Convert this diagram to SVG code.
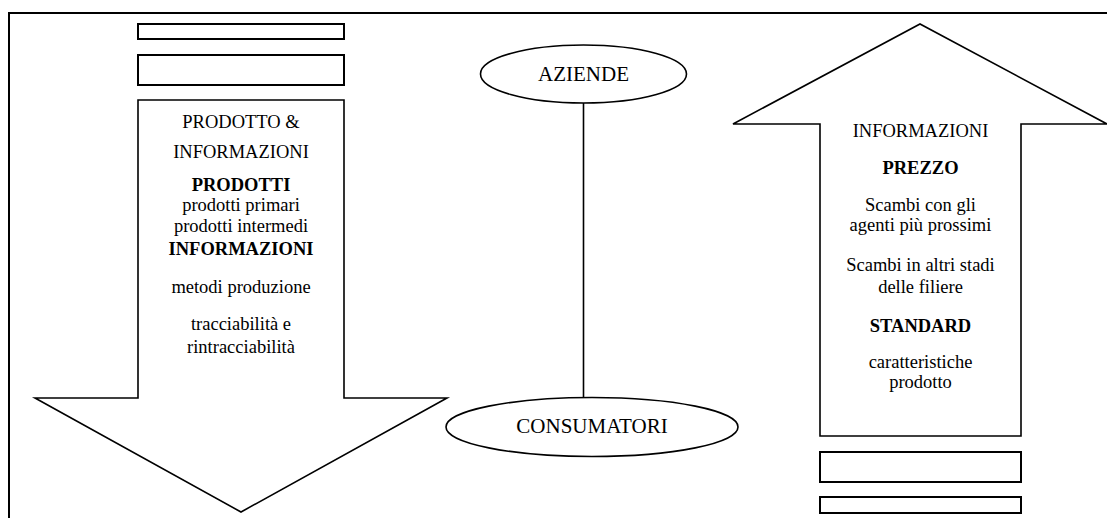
<svg xmlns="http://www.w3.org/2000/svg" width="1107" height="518" viewBox="0 0 1107 518" font-family="'Liberation Serif', Tinos, 'DejaVu Serif', 'Noto Serif', serif">
<style>
.frame{fill:none;stroke:#000;stroke-width:2}
.box{fill:#fff;stroke:#000;stroke-width:2}
.arrow{fill:#fff;stroke:#000;stroke-width:1.6;stroke-linejoin:miter}
.ell{fill:#fff;stroke:#000;stroke-width:1.6}
.conn{stroke:#000;stroke-width:1.6;fill:none}
text{font-family:'Liberation Serif', Tinos, 'DejaVu Serif', 'Noto Serif', serif;fill:#000;text-anchor:middle}
.t{font-size:18.5px}
.b{font-size:18.5px;font-weight:bold}
.e{font-size:21px}
</style>
<rect class="frame" x="9" y="13" width="1110" height="520"/>
<g id="connectors">
<line class="conn" x1="583.5" y1="103" x2="583.5" y2="400"/>
</g>
<g id="left-arrow">
<rect class="box" x="138" y="24" width="206" height="15"/>
<rect class="box" x="138" y="55" width="206" height="30"/>
<path class="arrow" d="M138,100 H344 V398 H447 L241,512 L35,398 H138 Z"/>
<text class="t" x="241" y="128">PRODOTTO &amp;</text>
<text class="t" x="241" y="158">INFORMAZIONI</text>
<text class="b" x="241" y="191">PRODOTTI</text>
<text class="t" x="241" y="211">prodotti primari</text>
<text class="t" x="241" y="232">prodotti intermedi</text>
<text class="b" x="241" y="255">INFORMAZIONI</text>
<text class="t" x="241" y="293">metodi produzione</text>
<text class="t" x="241" y="330">tracciabilità e</text>
<text class="t" x="241" y="353">rintracciabilità</text>
</g>
<g id="aziende">
<ellipse class="ell" cx="583.5" cy="74" rx="103" ry="29"/>
<text class="e" x="583.5" y="81">AZIENDE</text>
</g>
<g id="consumatori">
<ellipse class="ell" cx="592" cy="427" rx="146" ry="29.5"/>
<text class="e" x="592" y="433">CONSUMATORI</text>
</g>
<g id="right-arrow">
<path class="arrow" d="M820,436 V124 H733 L920,24 L1107,124 H1021 V436 Z"/>
<rect class="box" x="820" y="452" width="201" height="30"/>
<rect class="box" x="820" y="497" width="201" height="16"/>
<text class="t" x="920.5" y="137">INFORMAZIONI</text>
<text class="b" x="920.5" y="174">PREZZO</text>
<text class="t" x="920.5" y="211">Scambi con gli</text>
<text class="t" x="920.5" y="231">agenti più prossimi</text>
<text class="t" x="920.5" y="271">Scambi in altri stadi</text>
<text class="t" x="920.5" y="293">delle filiere</text>
<text class="b" x="920.5" y="332">STANDARD</text>
<text class="t" x="920.5" y="368">caratteristiche</text>
<text class="t" x="920.5" y="388">prodotto</text>
</g>
</svg>
